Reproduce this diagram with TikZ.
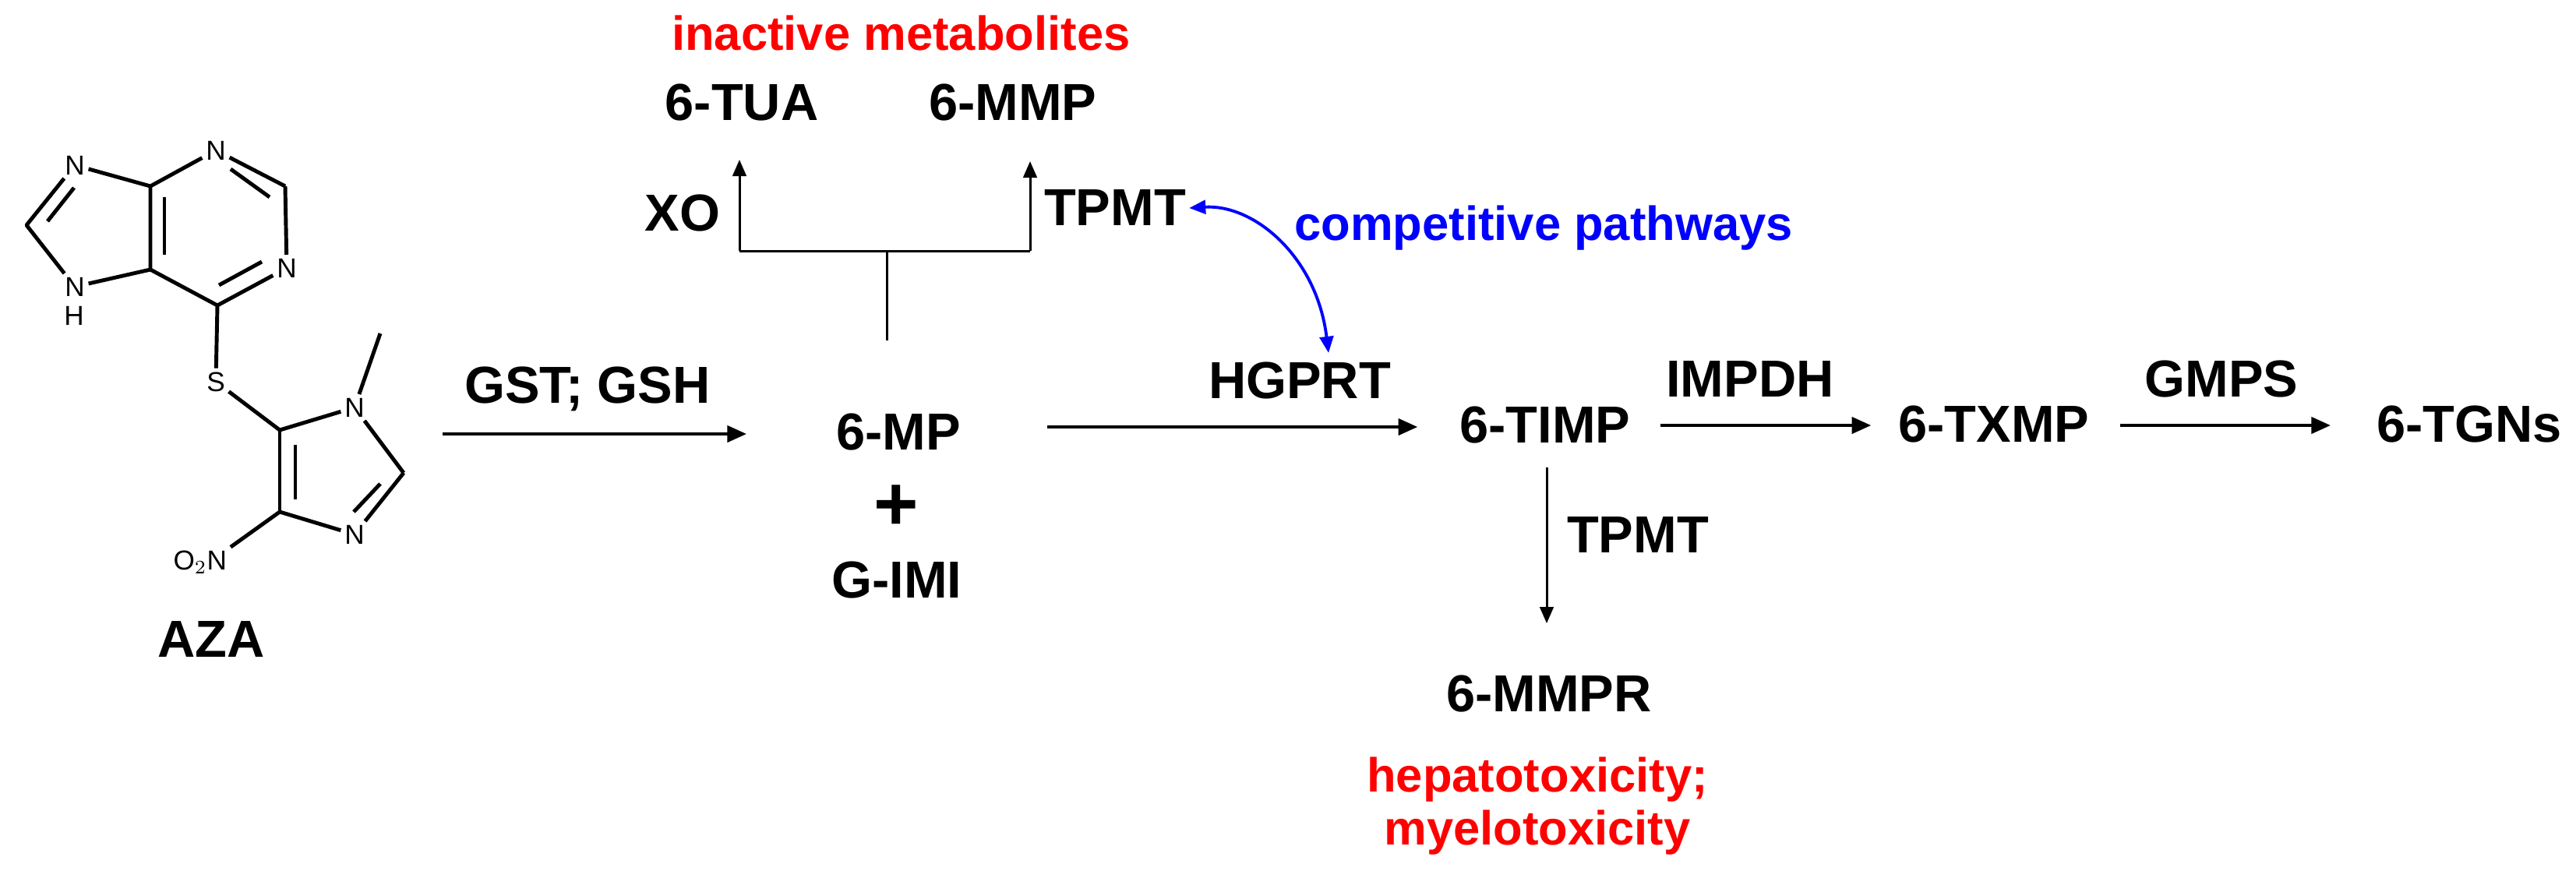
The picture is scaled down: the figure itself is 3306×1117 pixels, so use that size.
\documentclass[tikz,border=0pt]{standalone}
\usepackage{fontspec}
\setmainfont{Liberation Sans}
\usetikzlibrary{arrows.meta,calc}
\definecolor{myred}{RGB}{255,0,0}
\definecolor{myblue}{RGB}{0,0,255}
\begin{document}
\begin{tikzpicture}[x=0.01cm,y=-0.01cm,
  lbl/.style={font=\fontsize{19}{22}\selectfont\bfseries, inner sep=1pt},
  slbl/.style={font=\fontsize{17.5}{20}\selectfont\bfseries, inner sep=1pt},
  atom/.style={font=\fontsize{10}{11}\selectfont, inner sep=1.2pt},
  bond/.style={line width=1.4pt},
  arr/.style={line width=1.1pt,-{Triangle[length=7pt,width=6pt]}},
  tarr/.style={line width=0.85pt,-{Triangle[length=6pt,width=5pt]}},
  blarr/.style={myblue,line width=1.1pt,{Triangle[length=6pt,width=5pt]}-{Triangle[length=6pt,width=5pt]}}]
\useasboundingbox (0,0) rectangle (3306,1117);
% ---------- molecule ----------
\node[atom] (N7) at (96,212) {N};
\coordinate (C8) at (34,289);
\node[atom] (N9) at (96,368) {N};
\node[atom] (H9) at (95,405) {H};
\coordinate (C4) at (193,239);
\coordinate (C5) at (193,346);
\node[atom] (N3) at (277,193) {N};
\coordinate (C2) at (366,239);
\node[atom] (N1) at (368,344) {N};
\coordinate (C6) at (279,392);
\node[atom] (S) at (277,490) {S};
\coordinate (C5b) at (359,552);
\node[atom] (N1b) at (455,523) {N};
\coordinate (Me) at (488,428);
\coordinate (C2b) at (518,607);
\node[atom] (N3b) at (455,686) {N};
\coordinate (C4b) at (359,657);
\node[atom,anchor=east] (NO2) at (296,722) {O$_2$N};
\draw[bond,line join=round] (N7) -- (C8) -- (N9);
\draw[bond] (N9) -- (C5);
\draw[bond,line join=round] (N7) -- (C4) -- (C5) -- (C6);
\draw[bond] (C4) -- (N3);
\draw[bond] (N3) -- (C2);
\draw[bond] (C2) -- (N1);
\draw[bond] (N1) -- (C6);
\draw[bond] (C6) -- (S);
\draw[bond] (S) -- (C5b);
\draw[bond] (C5b) -- (N1b);
\draw[bond] (N1b) -- (Me);
\draw[bond] (N1b) -- (C2b);
\draw[bond] (C2b) -- (N3b);
\draw[bond] (N3b) -- (C4b);
\draw[bond,line join=round] (C4b) -- (C5b);
\draw[bond] (C4b) -- (NO2.north east);
% inner double-bond lines
\draw[bond] (95,241) -- (61,284);
\draw[bond] (211,253) -- (211,327);
\draw[bond] (296,217) -- (346,253);
\draw[bond] (281,366) -- (336,336);
\draw[bond] (379,571) -- (379,641);
\draw[bond] (488,621) -- (454,657);
\node[lbl] (aza) at (271,820) {AZA};
% ---------- pathway ----------
\node[slbl,anchor=west,text=myred] (inact) at (858,42) {inactive metabolites};
\node[lbl] (tua) at (952,131) {6-TUA};
\node[lbl,anchor=west] (mmp) at (1188,131) {6-MMP};
\node[lbl] (xo) at (876,273) {XO};
\node[lbl] (tpmt) at (1431,267) {TPMT};
\node[slbl,anchor=west,text=myblue] (comp) at (1657,293) {competitive pathways};
\node[lbl] (gst) at (754,499) {GST; GSH};
\node[lbl] (mp) at (1153,554) {6-MP};
\node[font=\fontsize{28}{30}\selectfont\bfseries,inner sep=0pt] (plus) at (1150,652) {+};
\node[lbl] (gimi) at (1151,744) {G-IMI};
\node[lbl] (hgprt) at (1668,488) {HGPRT};
\node[lbl] (timp) at (1983,545) {6-TIMP};
\node[lbl] (impdh) at (2246,486) {IMPDH};
\node[lbl] (txmp) at (2559,544) {6-TXMP};
\node[lbl] (gmps) at (2851,486) {GMPS};
\node[lbl] (tgns) at (3169,544) {6-TGNs};
\node[lbl] (tpmt2) at (2102,686) {TPMT};
\node[lbl] (mmpr) at (1988,890) {6-MMPR};
\node[slbl,text=myred] (hep) at (1973,1001) {hepatotoxicity;};
\node[slbl,text=myred] (mye) at (1973,1069) {myelotoxicity};
% branch to inactive metabolites
\coordinate (br0) at (1138,437);
\coordinate (brM) at (1138,322);
\coordinate (brL) at (949,322);
\coordinate (brR) at (1322,322);
\coordinate (tipL) at (949,205);
\coordinate (tipR) at (1322,207);
\draw[line width=0.85pt] (br0) -- (brM);
\draw[line width=0.85pt] (brL) -- (brR);
\draw[tarr] (brL) -- (tipL);
\draw[tarr] (brR) -- (tipR);
% main arrows
\coordinate (a1) at (568,557);
\coordinate (a2) at (958,557);
\draw[arr] (a1) -- (a2);
\draw[arr,shorten <=1.07cm,shorten >=0.5cm] (mp.east |- 0,548) -- (timp.west |- 0,548);
\draw[arr,shorten <=0.34cm,shorten >=0.31cm] (timp.east |- 0,546) -- (txmp.west |- 0,546);
\draw[arr,shorten <=0.35cm,shorten >=0.55cm] (txmp.east |- 0,546) -- (tgns.west |- 0,546);
\draw[tarr,shorten <=0.27cm,shorten >=0.62cm] (timp.south -| 1985,0) -- (mmpr.north -| 1985,0);
% competitive pathways
\coordinate (hgtop) at (1705,453);
\draw[blarr] (tpmt.east) .. controls (1610,262) and (1690,330) .. (hgtop);
\end{tikzpicture}
\end{document}
